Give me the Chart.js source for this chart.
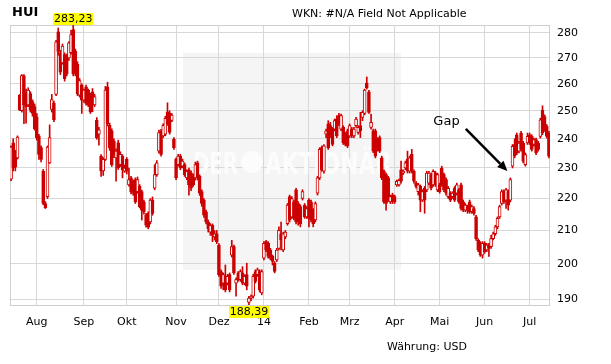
<!DOCTYPE html>
<html><head><meta charset="utf-8">
<script src="https://cdn.jsdelivr.net/npm/chart.js@4"></script>
<style>html,body{margin:0;padding:0;background:#fff;}#wrap{width:611px;height:364px;}</style>
</head><body><div id="wrap"><canvas id="c" width="611" height="364"></canvas></div>
<script>
const chartTitle = 'HUI';
const wknText = 'WKN: #N/A Field Not Applicable';
const currencyText = 'Währung: USD';
const watermarkWords = ['DER', 'AKTIONÄR'];
const gapText = 'Gap';

const monthLabels = ['', 'Aug', 'Sep', 'Okt', 'Nov', 'Dez', '14', 'Feb', 'Mrz', 'Apr', 'Mai', 'Jun', 'Jul'];
const daysPerMonth = [12, 22, 20, 23, 20, 21, 21, 19, 21, 21, 21, 21, 10];
const yTicks = [190, 200, 210, 220, 230, 240, 250, 260, 270, 280];

const opens = [
226.3,238.6,235,233.4,255.7,250,263,257,252.1,256.3,
253.3,251.5,247.8,241,236.9,228.9,218.4,220.6,231.7,250.5,
252.7,256,280.4,272,268,271.3,270.7,270,272,281.3,
272.7,267.5,255.7,259.4,253.9,258.8,257.6,255.7,257,252.1,
246.5,241.6,234,229,232.9,258.8,244.7,242.8,239.2,233.4,
238.6,231.1,234,228.9,232.9,224.4,226.7,225.6,226.1,222.2,
223.9,222.2,218.9,214.7,215.3,212.6,219.5,223.3,227.8,235.7,
242.8,241,241.6,249.6,249,246.5,239.8,232.9,231.1,234,
230.6,231.1,226.7,229.4,228.3,227.2,226.7,231.7,227.2,222.2,
219.5,215.8,212.6,209.5,211.6,208,209,205.6,197.8,194.5,
196.4,194.5,196.9,202.6,205.1,194.5,197.4,195.5,197.4,194.5,
196.9,189.1,190.3,190.8,197.8,196.9,197.8,191.7,201.7,206.6,
206.1,204.1,202.2,200.2,201.2,204.6,209,204.1,208,212.1,
220.6,214.2,218.9,222.8,218.4,217.4,220,217.9,214.2,219.5,
218.9,216.3,213.2,221.7,226.7,236.9,228.9,241.6,245.2,244.6,
243.4,243.4,247,248.2,243.4,244,241.6,242.8,241,243.4,
241,244.6,242.2,244.6,247.6,249,260.3,257,244,242.8,
242.8,239.8,240.4,233.4,228.9,227.8,226.7,218.9,221.1,220.6,
224.4,224.4,229.4,228.3,230,232.9,228.9,234.6,228.9,225,
222.2,223.9,219.5,223.3,222.8,225,227.8,224.4,228.3,222.8,
224.4,230,227.8,226.1,220.6,221.7,220.6,223.3,221.7,222.8,
224.4,218.9,216.3,217.4,218.9,215.8,216.8,214.2,207.1,206.1,
202.6,206.1,204.1,205.6,205.1,207.5,209,211.1,214.2,218.4,
222.2,219.5,222.2,219.5,230.6,238,241.4,235.7,242,238.5,
231.1,238.5,241.4,240.8,238,239.7,238.5,240.8,250.2,247.9,
244.4,242];

const highs = [
237.5,240,236,241,256,263.5,263.5,258,258.5,257,
254,252.5,249,241.5,237.5,229.5,219,237.5,244.9,256,
253.5,277,282,273,275.5,272,271.5,276.5,281,283.23,
273.5,268.5,262,260,258,259.5,258,256.5,258.2,256,
247.5,244,234.5,233.5,259,260.6,245.5,243.5,240,236.5,
239.5,235.5,234.5,231,233.5,230,227.2,226,226.7,227,
224.5,222.7,219.5,215.3,215.8,220,220.5,231.1,232.5,243,
243.3,245.3,248,252.9,250,249,240.4,233.4,234.6,234.6,
233,231.7,229.4,230,229,228,232,232.3,227.7,222.8,
220,216.3,213.2,212.1,212,210,210,206,198.3,197.4,
199.7,197,197.4,207,205.6,196,197.8,198.3,199.2,196.9,
200.2,190.8,191.2,197,198.3,198.8,198.3,198.3,206.6,207,
206.6,204.6,202.6,200.7,204.6,211.1,212.6,209.5,210,218.4,
221.1,220.6,219.5,223.3,219,218,222.8,218.4,217.4,220,
219.5,216.8,218.9,227.2,236.9,237.5,238,243.4,246.4,245.8,
244,247,248.2,249,248.8,244.6,242.2,243.4,245.2,244,
244,247.6,244.6,249.4,250,258,262.6,257.5,248.8,243.4,
243.4,240.4,241,234,229.4,228.3,227.2,221.1,221.7,221.1,
226,226.3,232.3,229.4,232.3,235.7,234,236.3,229.4,225.6,
224.9,224.4,222.8,223.9,228.9,228.9,228.3,229.4,228.9,228.3,
225,230.6,228.3,226.7,223.9,222.2,222.2,223.9,225,223.3,
225,219.5,218.4,217.9,219.5,217.9,217.4,214.7,207.5,206.6,
206.6,206.6,206.1,206.1,208.5,209.5,211.6,214.2,217.9,222.8,
222.8,223.3,222.8,226.7,238,240,242,239.1,242.6,239.1,
235.1,242,242,241.4,240.2,240.2,239.1,247.3,251.8,248.5,
245,242.6];

const lows = [
225.8,229,229,233,250,249.5,245.3,245.5,251.5,249.5,
248,243,239.5,232.9,232,218,216.8,220,231.5,249.5,
246,255.5,271,263.5,267.5,261,263,269,271.5,263,
263,255.5,255,249,253,252,251.5,249,249.6,251.5,
239.8,237.8,227.2,227.5,232.5,244.5,236,230.5,233.5,225.6,
229.5,230.5,226.7,228.5,228,224,221.5,221,218.4,221.7,
217,213.2,215,211,210.5,212,214.7,222.8,227.2,235,
234,240.4,241,244.7,241.6,246,236.3,226.1,230.6,229.4,
230,227.2,226.1,221.1,222.5,223.9,226,226,221,217.5,
214,212,209.5,208.5,206.6,207.1,206,196.4,193,192.6,
192,194,192,202,197,190.8,195,195,194,194,
192.6,188.39,189.6,190.3,194.5,196.4,192,191.2,201.2,203.6,
201.7,201.2,199.7,197.4,200.7,204.1,204.1,203.6,207.5,211.6,
212.6,213.7,213.2,212,211.6,211.1,219.5,213.7,213.7,211.1,
212.6,211.1,212.6,221.1,226.1,228.9,228.3,240.4,236.3,240.4,
237.5,242.8,240.4,244.6,242.8,238,237.5,236.9,240.4,240.4,
240.4,244,241.6,240.4,246.4,248.5,258,249,243.4,235.2,
233.4,235.7,235.2,226.1,218.4,216.3,219,218.4,218.4,218.4,
223.9,224,225,227.8,229.4,228.3,228.3,228.3,225,223.3,
221.1,215.8,219,215.3,222.2,224.4,222.8,223.9,223.9,222.2,
221.7,223.9,222.2,221.1,220,219,220,219,221.1,218.4,
216.3,215.8,215.8,215.3,215.3,215.3,214.7,207,203.6,202.2,
201.7,203.1,203.6,202.2,204.6,207.1,208.5,210.5,213.7,217.9,
218.4,216.8,216.3,218.9,230,233.4,234.5,235.1,235.7,231.7,
230.6,238,238,235.7,237.4,234.5,235.7,240.2,241.4,242.6,
240.2,233.4];

const closes = [
237.1,230,230.3,240.6,250.3,263.1,252.1,251.5,257.6,250.3,
249,243.5,240.4,234.6,232.9,218.4,217.1,237.1,240.4,254.1,
246.8,276.4,272.5,264.4,274.7,261.9,263.8,276,279.3,263.75,
263.75,256.3,261.25,253.9,257.6,252.7,252.1,249.6,252.1,255.1,
240.4,243.1,228.9,232.9,257.6,245.3,236.9,231.1,234.6,235.7,
230,234.6,229.4,230,228.9,226.1,222.2,221.7,218.9,226.1,
217.4,216.3,215.8,211.6,211,219.5,215.3,227.8,231.7,242.2,
234.6,244.7,247.2,245.3,242.2,248.4,236.9,226.7,234,230,
232.3,227.8,228.9,224.4,223.3,224.4,231.1,226.7,221.7,218.4,
214.7,212.6,210.5,211.6,208.5,209,206.6,196.9,193.6,196.9,
192.6,196.4,192.6,205.1,197.4,195.5,195.5,197.8,194.5,196.4,
193.6,190.3,190.8,196.4,195,198.3,192.6,197.8,206.1,204.1,
202.2,201.7,200.7,197.8,204.1,210,207.1,209,209.5,217.9,
213.2,220,213.7,212.6,212.6,212.1,222.2,214.2,216.8,213.7,
213.2,212.1,218.4,226.7,236.3,229.4,237.5,242.8,236.9,241,
238,246.4,241,245.2,248.2,238.6,238,237.5,244.6,241,
243.4,247,244,242.8,249.4,257.6,258.5,249.4,245.8,235.7,
234,236.3,235.7,226.7,218.9,218.4,219.5,220.6,218.9,218.9,
225.6,225.9,225.6,228.9,231.7,228.9,233.4,228.9,225.6,223.9,
224.4,219.5,222.2,219.5,228.3,228.3,223.3,228.9,224.4,227.8,
222.2,224.4,222.8,221.7,223.3,219.5,221.7,219.5,224.4,218.9,
216.8,216.3,217.9,216.3,215.8,217.4,215.3,207.5,204.1,202.6,
206.1,203.6,205.6,204.6,207.5,209,211.1,213.7,217.4,222.2,
218.9,222.8,217.9,226.1,237.4,234,235.1,238.5,236.3,232.3,
234.5,240.8,238.5,236.3,239.7,235.1,236.3,246.7,242,243.2,
240.8,234];

// annotation anchors in data coordinates: [category index, value]
const gapArrowFrom = [212.2, 243.5];
const gapArrowTo = [231.6, 229];
const gapTextAt = [203.2, 246];

const RED = '#cc0000';
const GRID = '#d8d8d8';
const FONT = 'DejaVu Sans';

const categories = [];
monthLabels.forEach((m, k) => {
  for (let d = 0; d < daysPerMonth[k]; d++) categories.push(d === 0 ? m : '');
});

const bodyData = opens.map((o, i) => [o, closes[i]]);
const wickData = lows.map((l, i) => [l, highs[i]]);
const bodyFill = opens.map((o, i) => closes[i] >= o ? '#ffffff' : RED);
const yMin = Math.min(...lows);
const yMax = Math.max(...highs);

Chart.defaults.font.family = FONT;
Chart.defaults.color = '#000';

const deco = {
  id: 'deco',
  beforeDraw(chart) {
    const ctx = chart.ctx;
    ctx.save();
    ctx.fillStyle = '#ffffff';
    ctx.fillRect(0, 0, chart.width, chart.height);
    ctx.fillStyle = '#f5f5f5';
    ctx.fillRect(183, 53, 218, 217);
    ctx.restore();
  },
  beforeDatasetsDraw(chart) {
    const ctx = chart.ctx, a = chart.chartArea;
    ctx.save();
    ctx.fillStyle = '#fcfcfc';
    ctx.font = 'bold 31px ' + FONT;
    ctx.textBaseline = 'alphabetic';
    ctx.textAlign = 'left';
    ctx.fillText(watermarkWords[0], 193, 174, 45);
    ctx.beginPath();
    ctx.arc(252, 162, 11, 0, Math.PI * 2);
    ctx.fill();
    ctx.fillText(watermarkWords[1], 265, 174, 127);
    ctx.strokeStyle = '#cfcfcf';
    ctx.lineWidth = 1;
    ctx.strokeRect(a.left + 0.5, a.top + 0.5, a.right - a.left - 1, a.bottom - a.top);
    ctx.restore();
  },
  afterDatasetsDraw(chart) {
    const ctx = chart.ctx, a = chart.chartArea;
    const xs = chart.scales.x, ys = chart.scales.y;
    ctx.save();
    ctx.font = '11px ' + FONT;
    ctx.textAlign = 'center';
    ctx.textBaseline = 'middle';
    const iMax = highs.indexOf(yMax);
    const iMin = lows.indexOf(yMin);
    const tMax = yMax.toFixed(2).replace('.', ',');
    const tMin = yMin.toFixed(2).replace('.', ',');
    let x = xs.getPixelForValue(iMax), w = ctx.measureText(tMax).width + 2;
    ctx.fillStyle = '#ffff00';
    ctx.fillRect(Math.round(x - w / 2), a.top - 12, Math.round(w), 12);
    ctx.fillStyle = '#000';
    ctx.fillText(tMax, x, a.top - 5.5);
    x = xs.getPixelForValue(iMin); w = ctx.measureText(tMin).width + 2;
    ctx.fillStyle = '#ffff00';
    ctx.fillRect(Math.round(x - w / 2), a.bottom + 1, Math.round(w), 12);
    ctx.fillStyle = '#000';
    ctx.fillText(tMin, x, a.bottom + 7.5);

    // Gap annotation
    const x1 = xs.getPixelForValue(gapArrowFrom[0]), y1 = ys.getPixelForValue(gapArrowFrom[1]);
    const x2 = xs.getPixelForValue(gapArrowTo[0]), y2 = ys.getPixelForValue(gapArrowTo[1]);
    const ang = Math.atan2(y2 - y1, x2 - x1);
    const hl = 10, hw = 4.5;
    const bx = x2 - hl * Math.cos(ang), by = y2 - hl * Math.sin(ang);
    ctx.strokeStyle = '#000';
    ctx.lineWidth = 2.5;
    ctx.beginPath(); ctx.moveTo(x1, y1); ctx.lineTo(bx, by); ctx.stroke();
    ctx.fillStyle = '#000';
    ctx.beginPath();
    ctx.moveTo(x2, y2);
    ctx.lineTo(bx + hw * Math.sin(ang), by - hw * Math.cos(ang));
    ctx.lineTo(bx - hw * Math.sin(ang), by + hw * Math.cos(ang));
    ctx.closePath(); ctx.fill();
    ctx.font = '13px ' + FONT;
    ctx.fillText(gapText, xs.getPixelForValue(gapTextAt[0]), ys.getPixelForValue(gapTextAt[1]));
    ctx.restore();
  },
  afterDraw(chart) {
    const ctx = chart.ctx;
    ctx.save();
    ctx.fillStyle = '#000';
    ctx.textBaseline = 'middle';
    ctx.textAlign = 'left';
    ctx.font = 'bold 13px ' + FONT;
    ctx.fillText(chartTitle, 12, 12.5);
    ctx.font = '11px ' + FONT;
    ctx.fillText(wknText, 292, 14);
    ctx.textAlign = 'center';
    ctx.fillText(currencyText, 427, 347);
    ctx.restore();
  }
};

new Chart(document.getElementById('c'), {
  type: 'bar',
  data: {
    labels: categories,
    datasets: [
      { label: 'Körper', data: bodyData, backgroundColor: bodyFill, borderColor: RED, borderWidth: 1,
        borderSkipped: false, barThickness: 3, grouped: false, order: 0 },
      { label: 'Docht', data: wickData, backgroundColor: RED, borderWidth: 0,
        barThickness: 1, grouped: false, order: 1 }
    ]
  },
  options: {
    responsive: false,
    animation: false,
    devicePixelRatio: 1,
    layout: { padding: { left: 10, top: 25, right: 0, bottom: 0 } },
    plugins: { legend: { display: false }, tooltip: { enabled: false } },
    scales: {
      x: {
        type: 'category',
        offset: true,
        grid: { offset: false, color: GRID, drawTicks: false },
        border: { display: false },
        ticks: {
          autoSkip: false, maxRotation: 0, minRotation: 0, padding: 11,
          font: { size: 11, family: FONT }, color: '#000',
          callback: function (v, i) { const l = categories[i]; return l ? l : null; }
        },
        afterFit(s) { s.height = 59; }
      },
      y: {
        type: 'logarithmic',
        position: 'right',
        min: yMin,
        max: yMax,
        grid: { color: GRID, drawTicks: false },
        border: { display: false },
        ticks: { padding: 7, font: { size: 11, family: FONT }, color: '#000',
          callback: v => String(v) },
        afterBuildTicks(s) { s.ticks = yTicks.map(v => ({ value: v })); },
        afterFit(s) { s.width = 61; }
      }
    }
  },
  plugins: [deco]
});
</script>
</body></html>
